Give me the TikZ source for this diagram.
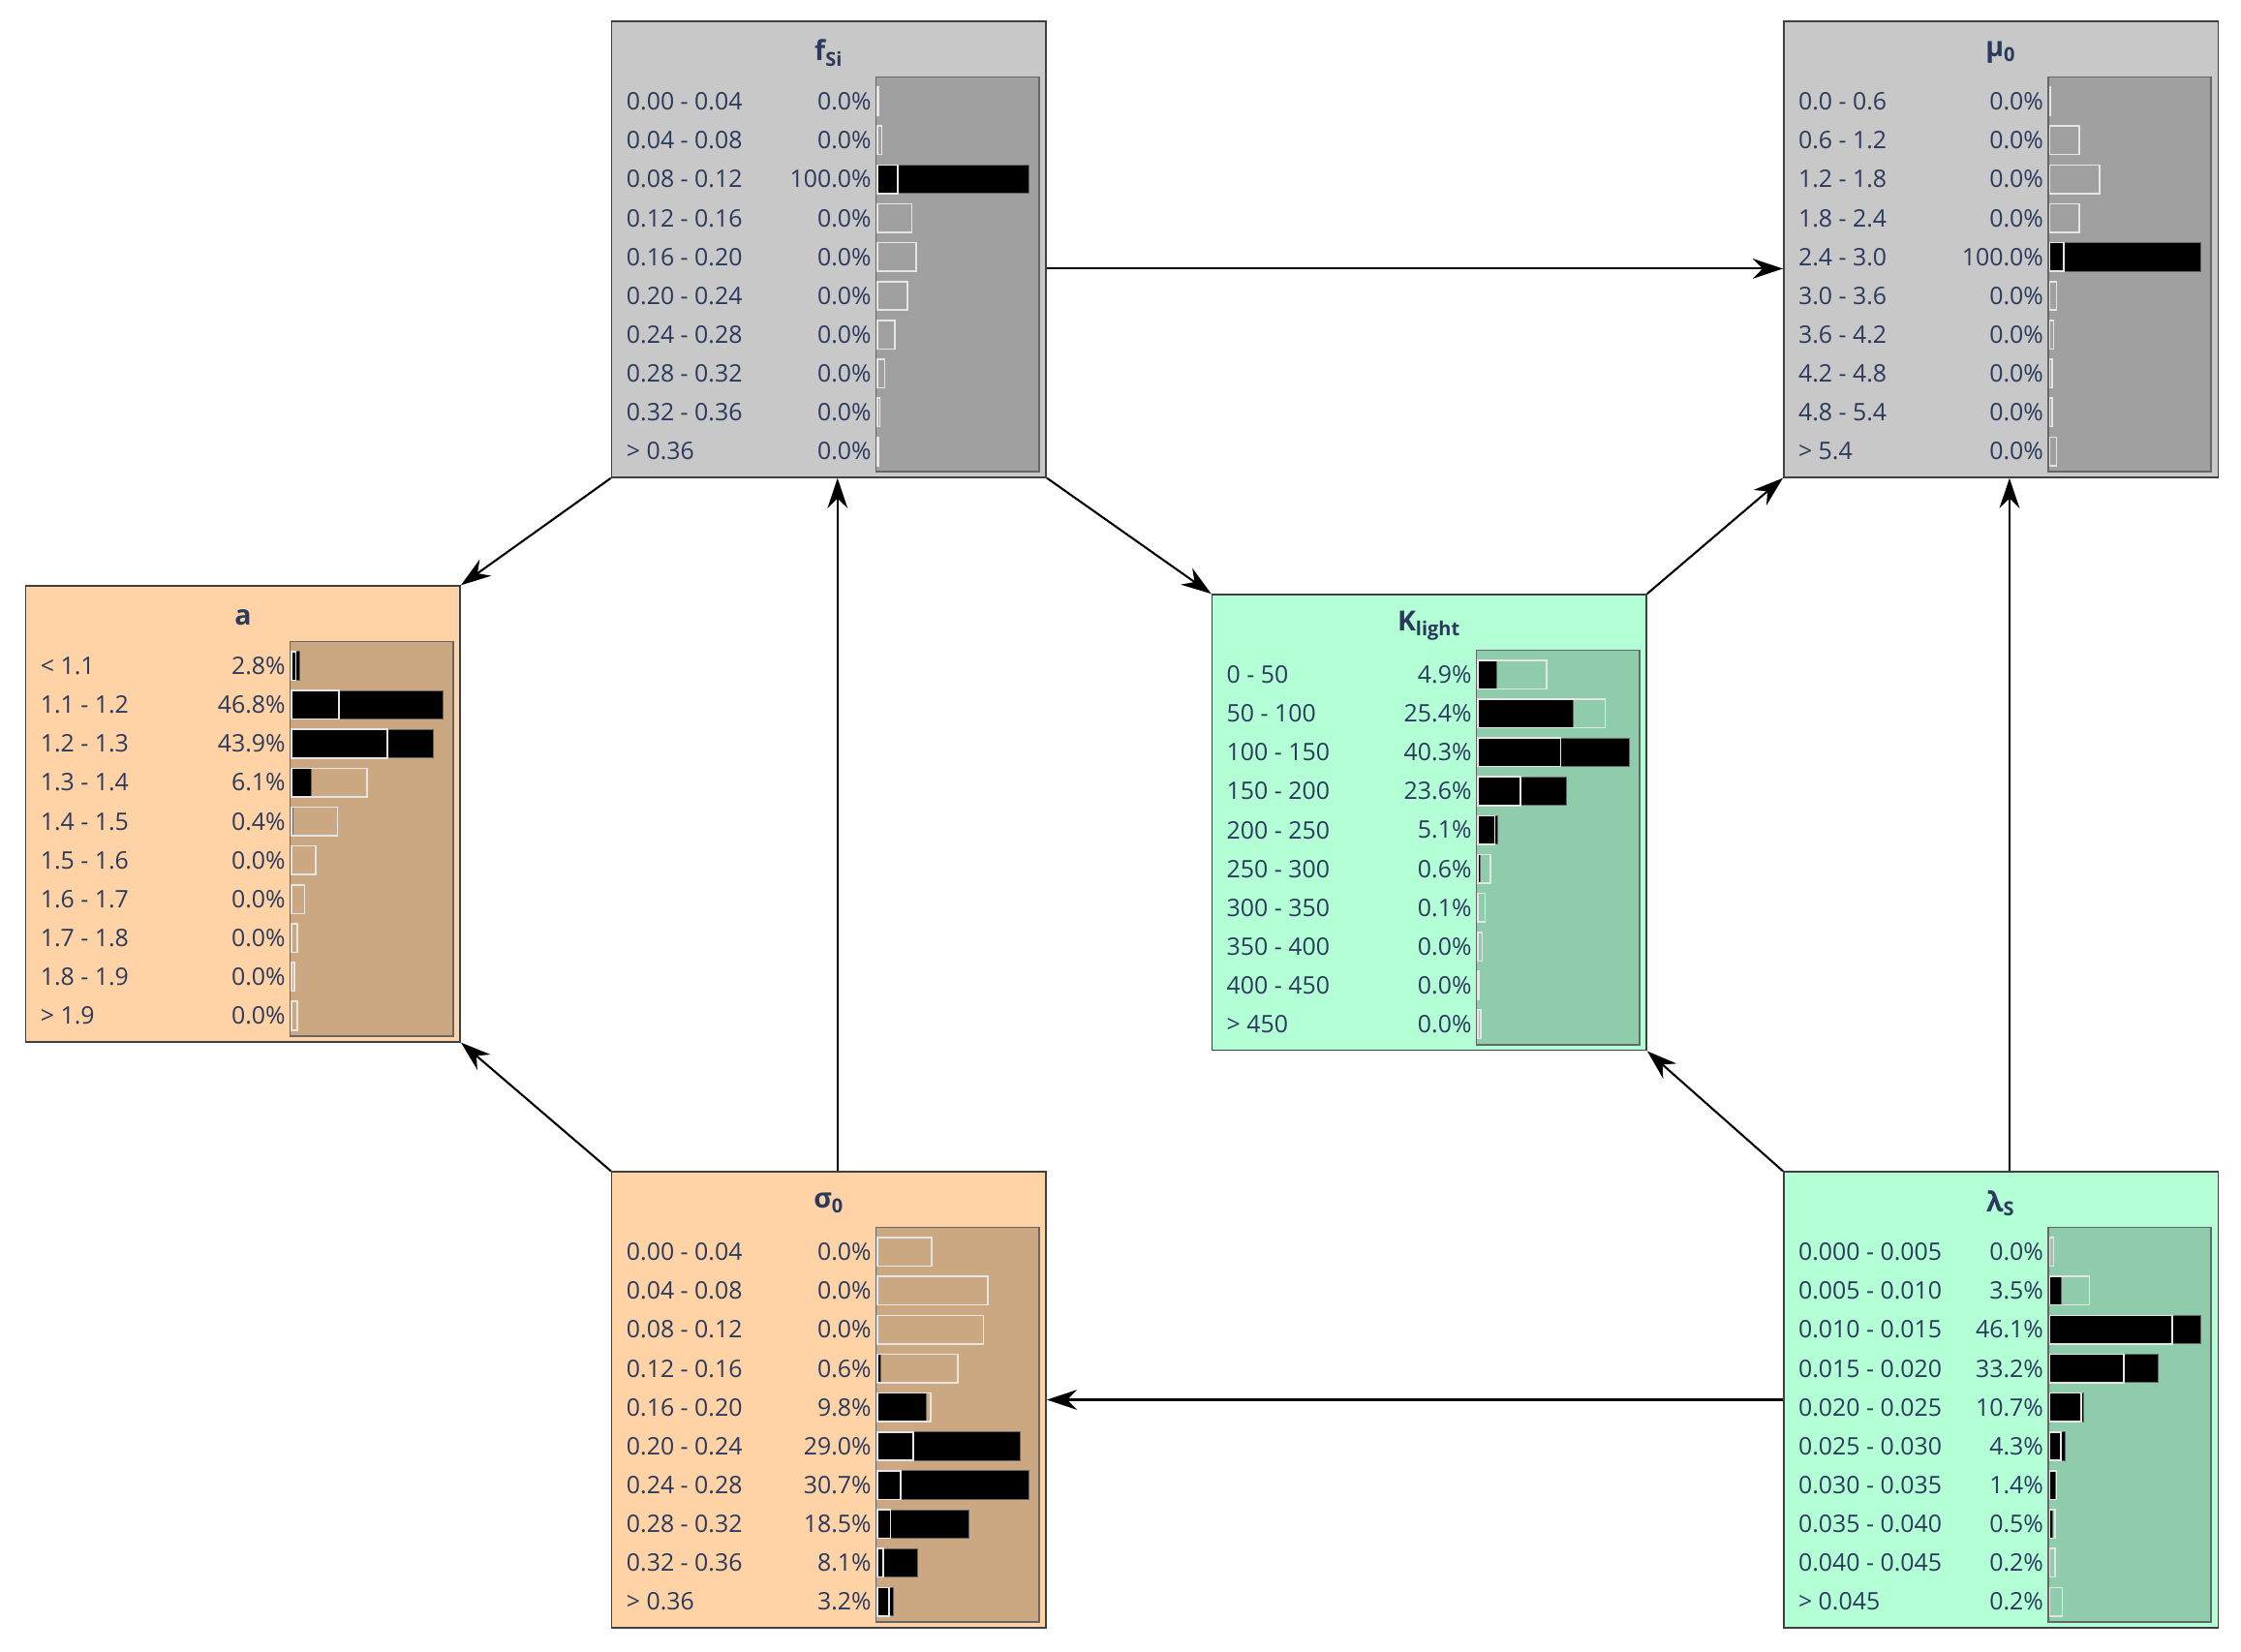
\documentclass[tikz,border=0pt]{standalone}
\usepackage{fontspec}
\setmainfont{Open Sans}
\usetikzlibrary{arrows.meta,calc}
\definecolor{txt}{HTML}{2B3A5C}
\definecolor{gbox}{HTML}{C8C8C8}\definecolor{gpan}{HTML}{A0A0A0}
\definecolor{obox}{HTML}{FFD3A6}\definecolor{opan}{HTML}{CCA882}
\definecolor{ebox}{HTML}{B3FFD6}\definecolor{epan}{HTML}{8FCCAB}
\tikzset{
 box/.style={draw=black!75,line width=0.6pt,minimum width=304*0.02cm,minimum height=319*0.02cm,inner sep=0pt},
 pan/.style={draw=black!60,line width=0.6pt},
 lab/.style={text=txt,font=\fontsize{9.6}{11}\selectfont,inner sep=0pt},
 ttl/.style={text=txt,font=\fontsize{11}{13}\selectfont\bfseries,inner sep=0pt},
 post/.style={fill=black,draw=black!60,line width=0.4pt},
 prior/.style={draw=white!90!black,line width=0.6pt},
 edge/.style={draw=black,line width=0.8pt,-{Stealth[length=12pt,width=8pt]}}
}
% \bnet{name}{x0}{y0}{box color}{panel color}{title}{rows}
\newcommand{\bnet}[7]{%
 \node[box,fill=#4] (#1) at (#2+152,#3+159.5) {};
 \node[ttl] at (#2+152,#3+22) {#6};
 \draw[pan,fill=#5] (#2+185,#3+39) rectangle (#2+299,#3+315);
 \foreach \l/\p/\q/\r [count=\i from 0] in {#7}{
   \pgfmathsetmacro{\yy}{#3+56+27.2*\i}
   \node[lab,anchor=west] at (#2+10,\yy) {\l};
   \node[lab,anchor=east] at (#2+182,\yy) {\p};
   \ifdim\q pt>0pt \draw[post] (#2+186,\yy-10) rectangle ++(\q,20);\fi
   \ifdim\r pt>0pt \draw[prior] (#2+186,\yy-10) rectangle ++(\r,20);\fi
 }
}
\begin{document}
\begin{tikzpicture}[x=0.02cm,y=-0.02cm]
\useasboundingbox[fill=white] (0,0) rectangle (1568,1156);
\bnet{fsi}{428}{15}{gbox}{gpan}{f\textsubscript{Si}}{0.00 - 0.04/0.0\%/0/0.5,0.04 - 0.08/0.0\%/0/3,0.08 - 0.12/100.0\%/106/14,0.12 - 0.16/0.0\%/0/24,0.16 - 0.20/0.0\%/0/27,0.20 - 0.24/0.0\%/0/21,0.24 - 0.28/0.0\%/0/12,0.28 - 0.32/0.0\%/0/5,0.32 - 0.36/0.0\%/0/1.5,> 0.36/0.0\%/0/0.5}
\bnet{mu}{1248}{15}{gbox}{gpan}{μ\textsubscript{0}}{0.0 - 0.6/0.0\%/0/0.5,0.6 - 1.2/0.0\%/0/21,1.2 - 1.8/0.0\%/0/35,1.8 - 2.4/0.0\%/0/21,2.4 - 3.0/100.0\%/106/10,3.0 - 3.6/0.0\%/0/5,3.6 - 4.2/0.0\%/0/3,4.2 - 4.8/0.0\%/0/2,4.8 - 5.4/0.0\%/0/2,> 5.4/0.0\%/0/5}
\bnet{a}{18}{410}{obox}{opan}{a}{< 1.1/2.8\%/6/3,1.1 - 1.2/46.8\%/106/33,1.2 - 1.3/43.9\%/99/67,1.3 - 1.4/6.1\%/14/53,1.4 - 1.5/0.4\%/1/32,1.5 - 1.6/0.0\%/0/17,1.6 - 1.7/0.0\%/0/9,1.7 - 1.8/0.0\%/0/4,1.8 - 1.9/0.0\%/0/2,> 1.9/0.0\%/0/4}
\bnet{kl}{848}{416}{ebox}{epan}{K\textsubscript{light}}{0 - 50/4.9\%/13/48,50 - 100/25.4\%/67/89,100 - 150/40.3\%/106/58,150 - 200/23.6\%/62/30,200 - 250/5.1\%/14/12,250 - 300/0.6\%/2/9,300 - 350/0.1\%/0/5,350 - 400/0.0\%/0/3,400 - 450/0.0\%/0/1,> 450/0.0\%/0/2}
\bnet{sig}{428}{820}{obox}{opan}{σ\textsubscript{0}}{0.00 - 0.04/0.0\%/0/38,0.04 - 0.08/0.0\%/0/77,0.08 - 0.12/0.0\%/0/74,0.12 - 0.16/0.6\%/2/56,0.16 - 0.20/9.8\%/34/37,0.20 - 0.24/29.0\%/100/25,0.24 - 0.28/30.7\%/106/16,0.28 - 0.32/18.5\%/64/9,0.32 - 0.36/8.1\%/28/4,> 0.36/3.2\%/11/8}
\bnet{lam}{1248}{820}{ebox}{epan}{λ\textsubscript{S}}{0.000 - 0.005/0.0\%/0/3,0.005 - 0.010/3.5\%/8/28,0.010 - 0.015/46.1\%/106/86,0.015 - 0.020/33.2\%/76/52,0.020 - 0.025/10.7\%/24/22,0.025 - 0.030/4.3\%/11/8,0.030 - 0.035/1.4\%/4/5,0.035 - 0.040/0.5\%/2/4,0.040 - 0.045/0.2\%/0/4,> 0.045/0.2\%/0/9}
\draw[edge] ($(fsi.east)+(0,13.5)$) -- ($(mu.west)+(0,13.5)$);
\draw[edge] (fsi.south west) -- (a.north east);
\draw[edge] (fsi.south east) -- (kl.north west);
\draw[edge] (kl.north east) -- (mu.south west);
\draw[edge] ($(sig.north)+(6,0)$) -- ($(fsi.south)+(6,0)$);
\draw[edge] (sig.north west) -- (a.south east);
\draw[edge] (lam.north west) -- (kl.south east);
\draw[edge] ($(lam.north)+(6,0)$) -- ($(mu.south)+(6,0)$);
\draw[edge] (lam.west) -- (sig.east);
\end{tikzpicture}
\end{document}
